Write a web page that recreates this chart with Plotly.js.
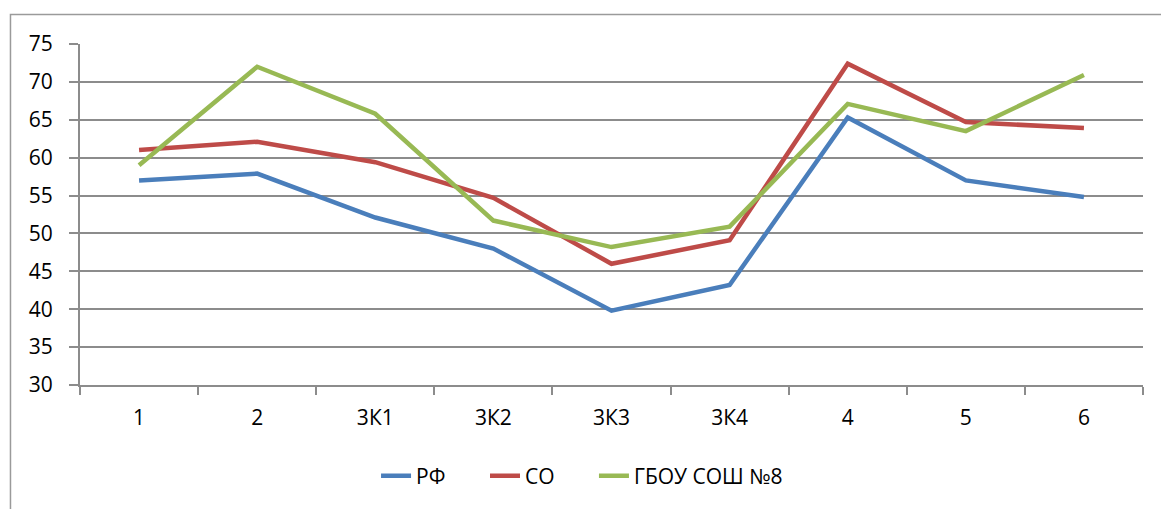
<!DOCTYPE html>
<html>
<head>
<meta charset="utf-8">
<script src="https://cdn.plot.ly/plotly-3.0.1.min.js"></script>
<style>html,body{margin:0;padding:0;background:#fff;}#chart{width:1161px;height:509px;}</style>
</head>
<body>
<div id="chart"></div>
<script>
const categories = ["1", "2", "3К1", "3К2", "3К3", "3К4", "4", "5", "6"];
const seriesNames = ["РФ", "СО", "ГБОУ СОШ №8"];
const rfValues = [57, 57.9, 52.1, 48, 39.8, 43.2, 65.3, 57, 54.8];
const soValues = [61, 62.1, 59.4, 54.7, 46, 49.1, 72.4, 64.7, 63.9];
const schoolValues = [59, 72, 65.8, 51.7, 48.2, 50.9, 67.1, 63.5, 70.9];
const yTicks = [30, 35, 40, 45, 50, 55, 60, 65, 70, 75];

const colors = ["#4A7EBB", "#BE4B48", "#98B954"];
const allValues = [rfValues, soValues, schoolValues];
const legendIds = ["legend", "legend2", "legend3"];
const legendX = [0.2785, 0.381, 0.4835];

const traces = allValues.map((vals, i) => ({
  type: "scatter",
  mode: "lines",
  x: categories,
  y: vals,
  name: seriesNames[i],
  legend: legendIds[i],
  line: {color: colors[i], width: 4.5},
  hoverinfo: "x+y+name"
}));

const fam = "Open Sans";
const font = {family: fam, size: 21, color: "#000"};

const layout = {
  width: 1161,
  height: 509,
  margin: {l: 80, r: 18, t: 44, b: 124},
  paper_bgcolor: "#fff",
  plot_bgcolor: "#fff",
  font: font,
  showlegend: true,
  xaxis: {
    type: "category",
    tickvals: categories,
    ticktext: categories,
    tickson: "boundaries",
    ticks: "outside",
    ticklen: 8,
    tickwidth: 2,
    tickcolor: "#8c8c8c",
    showgrid: false,
    showline: true,
    linecolor: "#8c8c8c",
    linewidth: 2,
    zeroline: false,
    range: [-0.5, 8.5],
    tickfont: font,
    ticklabelstandoff: 13,
    fixedrange: true
  },
  yaxis: {
    range: [30, 75],
    tickvals: yTicks,
    ticktext: yTicks.map(String),
    ticks: "outside",
    ticklen: 9,
    tickwidth: 2,
    tickcolor: "#8c8c8c",
    showgrid: true,
    gridcolor: "#8c8c8c",
    gridwidth: 2,
    showline: true,
    linecolor: "#8c8c8c",
    linewidth: 2,
    zeroline: false,
    tickfont: font,
    ticklabelstandoff: 12,
    fixedrange: true
  },
  shapes: [{
    type: "rect",
    xref: "paper",
    yref: "paper",
    x0: -0.0654,
    x1: 1.2,
    y0: -1,
    y1: 1.0865,
    line: {color: "#9a9a9a", width: 1.5},
    layer: "below"
  }]
};

legendIds.forEach((id, i) => {
  layout[id] = {
    orientation: "h",
    x: legendX[i],
    xanchor: "left",
    y: -0.267,
    yanchor: "middle",
    font: {family: fam, size: 21, color: "#000"},
    bgcolor: "rgba(0,0,0,0)"
  };
});

Plotly.newPlot("chart", traces, layout, {displayModeBar: false});
</script>
</body>
</html>
